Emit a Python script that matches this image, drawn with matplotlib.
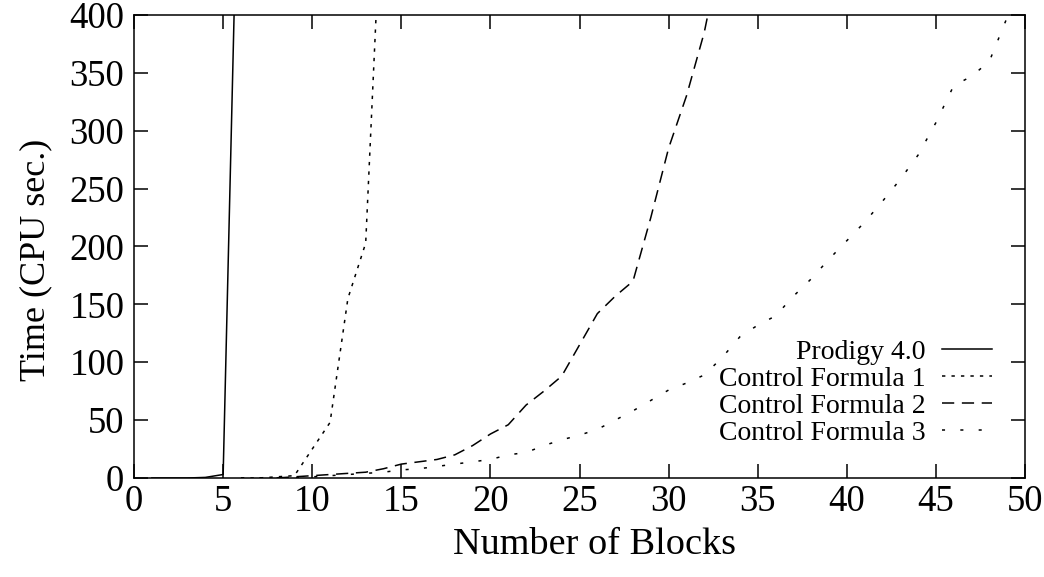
import matplotlib.pyplot as plt

plt.rcParams['font.family'] = ['Liberation Serif', 'DejaVu Serif']

# Prodigy 4.0
prodigy_x = [1, 2, 3, 4, 5, 6]
prodigy_y = [0, 0, 0, 0.5, 3, 650]

# Control Formula 1
cf1_x = [6, 7, 8, 9, 10, 11, 12, 13, 14]
cf1_y = [0, 0, 1, 2, 25, 48, 155, 203, 540]

# Control Formula 2
cf2_x = list(range(8, 34))
cf2_y = [0, 1, 2, 3, 4, 5, 8, 12, 14, 16, 20, 28, 38, 46, 63, 75, 88,
         115, 142, 157, 170, 225, 285, 330, 385, 460]

# Control Formula 3
cf3_x = list(range(6, 51))
cf3_y = [0, 0, 0, 0, 1, 2, 3, 4, 5, 7, 8, 10, 12, 14, 16, 20, 22, 28, 33,
         37, 42, 50, 58, 67, 76, 82, 89, 104, 122, 132, 140, 157, 172, 189,
         205, 221, 239, 258, 279, 307, 339, 347, 360, 398, 440]

xticks = list(range(0, 51, 5))
yticks = list(range(0, 401, 50))

fig = plt.figure(figsize=(10.44, 5.77), dpi=100)
ax = fig.add_axes([0.1284, 0.1716, 0.9818 - 0.1284, 0.974 - 0.1716])

lw = 1.1
ax.plot(prodigy_x, prodigy_y, color='black', lw=lw, label='Prodigy 4.0')
ax.plot(cf1_x, cf1_y, color='black', lw=lw, dashes=(2.2, 4.0),
        label='Control Formula 1')
ax.plot(cf2_x, cf2_y, color='black', lw=lw, dashes=(8, 5),
        label='Control Formula 2')
ax.plot(cf3_x, cf3_y, color='black', lw=lw, dashes=(2, 10),
        label='Control Formula 3')

ax.set_xlim(0, 50)
ax.set_ylim(0, 400)
ax.set_xticks(xticks)
ax.set_yticks(yticks)
ax.tick_params(direction='in', length=10, width=1.1, top=True, right=True,
               labelsize=26.5)
ax.tick_params(axis='x', pad=5)
ax.tick_params(axis='y', pad=7)
for s in ax.spines.values():
    s.set_linewidth(1.1)

ax.set_xlabel('Number of Blocks', fontsize=27.5)
ax.set_ylabel('Time (CPU sec.)', fontsize=26)
ax.xaxis.set_label_coords(0.517, -0.108)
ax.yaxis.set_label_coords(-0.092, 0.471)

leg = ax.legend(loc='lower right', bbox_to_anchor=(0.963, 0.07),
                frameon=False, markerfirst=False, fontsize=20,
                handlelength=1.8, handletextpad=0.6, labelspacing=0.05,
                borderpad=0, borderaxespad=0)

fig.savefig('out.png', dpi=100)
